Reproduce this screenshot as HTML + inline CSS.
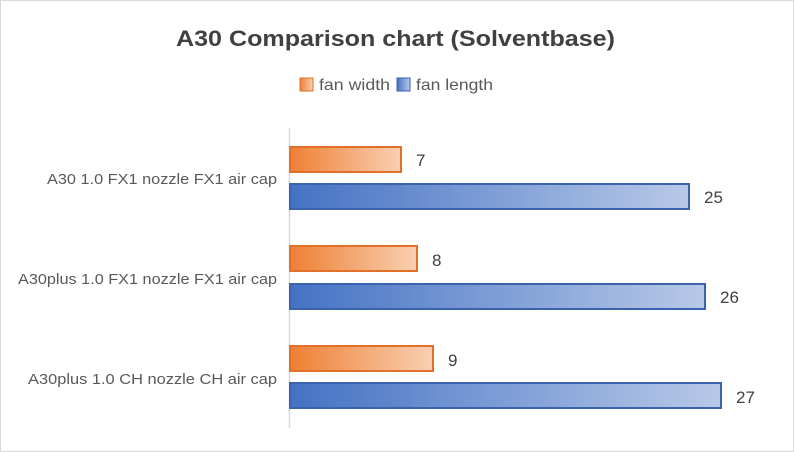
<!DOCTYPE html>
<html><head><style>
body{margin:0;background:#fff}
svg{display:block;font-family:"Liberation Sans",sans-serif}
</style></head><body>
<svg width="794" height="452" viewBox="0 0 794 452">
<defs>
<linearGradient id="o" x1="0" x2="1"><stop offset="0" stop-color="#ee8033"/><stop offset="1" stop-color="#f8d0b3"/></linearGradient>
<linearGradient id="b" x1="0" x2="1"><stop offset="0" stop-color="#4472c4"/><stop offset="1" stop-color="#b8c9e8"/></linearGradient>
</defs>
<rect x="0.5" y="0.5" width="793" height="451" fill="#fff" stroke="#d9d9d9"/>
<text x="176" y="46" font-size="22" font-weight="bold" fill="#404040" textLength="439" lengthAdjust="spacingAndGlyphs">A30 Comparison chart (Solventbase)</text>
<rect x="300" y="78" width="13" height="13" fill="url(#o)" stroke="#e0702a"/>
<text x="319" y="90" font-size="16" fill="#595959" textLength="71" lengthAdjust="spacingAndGlyphs">fan width</text>
<rect x="397" y="78" width="13" height="13" fill="url(#b)" stroke="#3a62ad"/>
<text x="416" y="90" font-size="16" fill="#595959" textLength="77" lengthAdjust="spacingAndGlyphs">fan length</text>
<line x1="289.5" y1="128" x2="289.5" y2="428" stroke="#d9d9d9" stroke-width="1.5"/>
<g stroke-width="2">
<rect x="290" y="147" width="111" height="25" fill="url(#o)" stroke="#e0702a"/>
<rect x="290" y="184" width="399" height="25" fill="url(#b)" stroke="#3a62ad"/>
<rect x="290" y="246" width="127" height="25" fill="url(#o)" stroke="#e0702a"/>
<rect x="290" y="284" width="415" height="25" fill="url(#b)" stroke="#3a62ad"/>
<rect x="290" y="346" width="143" height="25" fill="url(#o)" stroke="#e0702a"/>
<rect x="290" y="383" width="431" height="25" fill="url(#b)" stroke="#3a62ad"/>
</g>
<g font-size="17" fill="#404040">
<text x="416" y="166">7</text>
<text x="704" y="203">25</text>
<text x="432" y="266">8</text>
<text x="720" y="303">26</text>
<text x="448" y="366">9</text>
<text x="736" y="403">27</text>
</g>
<g font-size="15" fill="#595959">
<text x="47" y="184" textLength="230" lengthAdjust="spacingAndGlyphs">A30 1.0 FX1 nozzle FX1 air cap</text>
<text x="18" y="284" textLength="259" lengthAdjust="spacingAndGlyphs">A30plus 1.0 FX1 nozzle FX1 air cap</text>
<text x="28" y="384" textLength="249" lengthAdjust="spacingAndGlyphs">A30plus 1.0 CH nozzle CH air cap</text>
</g>
</svg>
</body></html>
